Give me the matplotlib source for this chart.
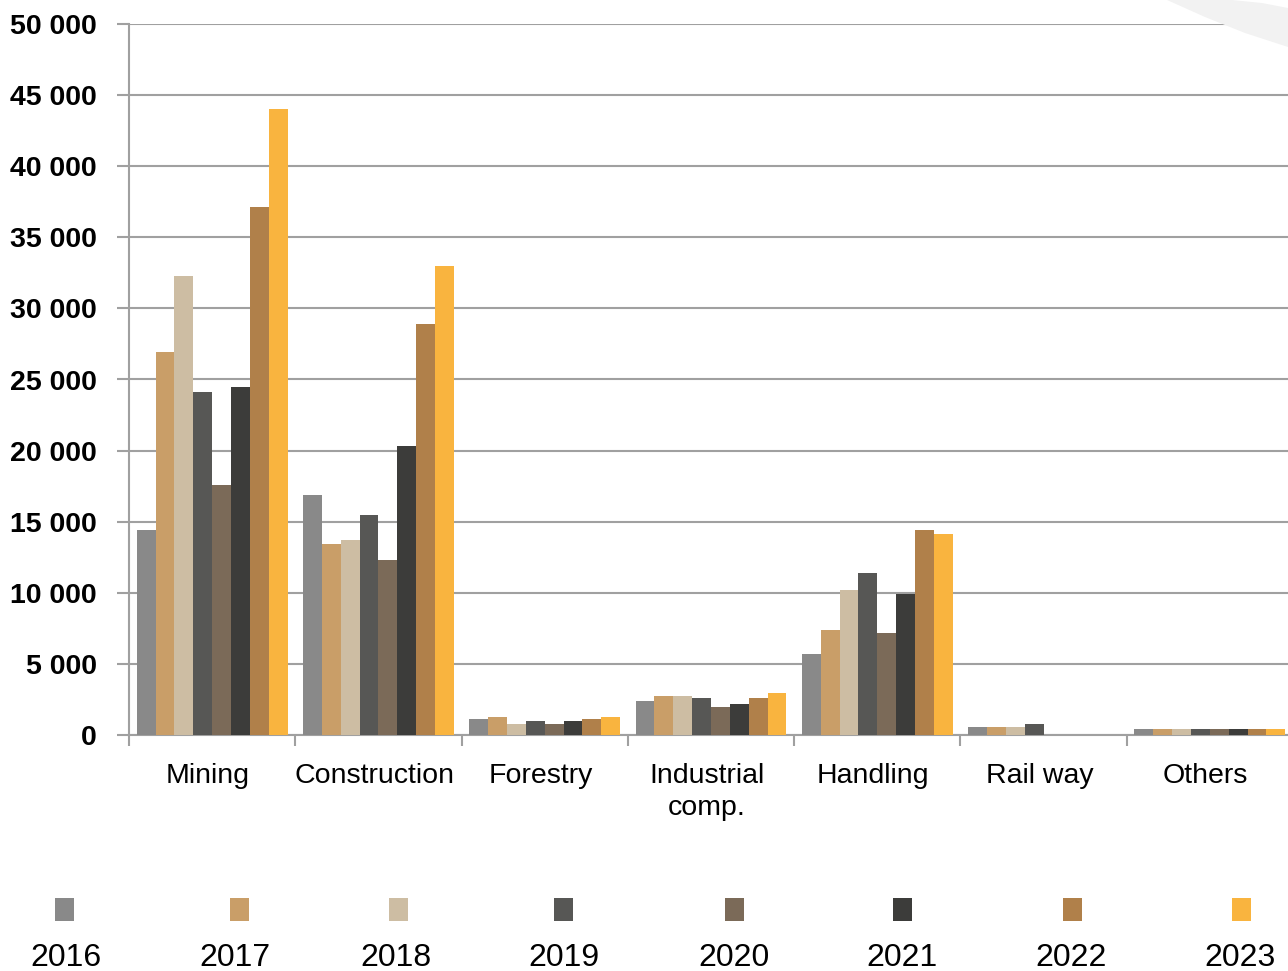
import numpy as np
import matplotlib
matplotlib.use('Agg')
import matplotlib.pyplot as plt
from matplotlib.patches import Polygon

categories = ['Mining', 'Construction', 'Forestry', 'Industrial\ncomp.', 'Handling', 'Rail way', 'Others']
years = ['2016', '2017', '2018', '2019', '2020', '2021', '2022', '2023']
colors = ['#898989', '#c99e68', '#cdbda3', '#575755', '#7b6a58', '#3c3c3a', '#b0804a', '#f9b43f']

# values per year, one per category
v2016 = [14400, 16900, 1100, 2400, 5700, 550, 400]
v2017 = [26900, 13400, 1250, 2750, 7400, 550, 400]
v2018 = [32300, 13700, 800, 2750, 10200, 550, 400]
v2019 = [24100, 15500, 1000, 2600, 11400, 800, 400]
v2020 = [17600, 12300, 800, 2000, 7200, 0, 400]
v2021 = [24500, 20300, 1000, 2200, 9900, 0, 400]
v2022 = [37100, 28900, 1100, 2600, 14400, 0, 400]
v2023 = [44000, 33000, 1250, 2950, 14100, 0, 400]
series = [v2016, v2017, v2018, v2019, v2020, v2021, v2022, v2023]

yticks = list(range(0, 50001, 5000))
ytick_labels = ['0' if t == 0 else f'{t // 1000} {t % 1000:03d}' for t in yticks]

plt.rcParams['font.family'] = ['Liberation Sans', 'DejaVu Sans']

W, H = 1288, 971
fig = plt.figure(figsize=(W / 100, H / 100), dpi=100)

# light decorative swoosh in the top right corner (pixel coords -> fig coords)
pts = [(1167, 0), (1205, 17), (1245, 33), (1288, 47), (1288, 8), (1262, 3), (1232, 0)]
fig.patches.append(Polygon([(x / W, 1 - y / H) for x, y in pts], closed=True,
                           transform=fig.transFigure, facecolor='#f2f2f2',
                           edgecolor='none', zorder=0))

ax = fig.add_axes([129 / W, 236 / H, 1164 / W, 711 / H])
ax.set_facecolor('none')

x = np.arange(len(categories))
w = 0.1135
for i, (vals, c) in enumerate(zip(series, colors)):
    ax.bar(x + (i - 3.5) * w, vals, width=w, color=c, zorder=3, label=years[i])

ax.set_xlim(-0.5, len(categories) - 0.5)
ax.set_ylim(0, 50000)
ax.set_yticks(yticks)
ax.set_yticklabels(ytick_labels, fontsize=20.5, fontweight='bold')
ax.yaxis.grid(True, color='#a0a0a0', linewidth=1.5, zorder=0)

ax.set_xticks(x - 0.025)
ax.set_xticklabels(categories, fontsize=20.5, linespacing=1.32)
ax.set_xticks(np.arange(-0.5, len(categories), 1.0), minor=True)
ax.tick_params(axis='x', which='major', length=0, pad=20)
ax.tick_params(axis='x', which='minor', length=8, width=1.5, color='#a0a0a0')
ax.tick_params(axis='y', length=9, width=1.5, color='#a0a0a0', pad=14)

for s in ['top', 'right']:
    ax.spines[s].set_visible(False)
for s in ['left', 'bottom']:
    ax.spines[s].set_color('#a0a0a0')
    ax.spines[s].set_linewidth(1.5)

# legend: square swatch above each year label (pixel layout)
sq_x = [65, 240, 399, 564, 735, 903, 1073, 1242]
txt_x = [66, 235, 396, 564, 734, 902, 1071, 1240]
lax = fig.add_axes([0, 0, 1, 91 / H])
lax.set_xlim(0, W)
lax.set_ylim(H, H - 91)
lax.axis('off')
for i, (yr, c) in enumerate(zip(years, colors)):
    lax.bar(sq_x[i], 23, width=19, bottom=898, color=c)
    lax.text(txt_x[i], 966, yr, ha='center', va='baseline', fontsize=23)

fig.savefig('out.png', dpi=100)
